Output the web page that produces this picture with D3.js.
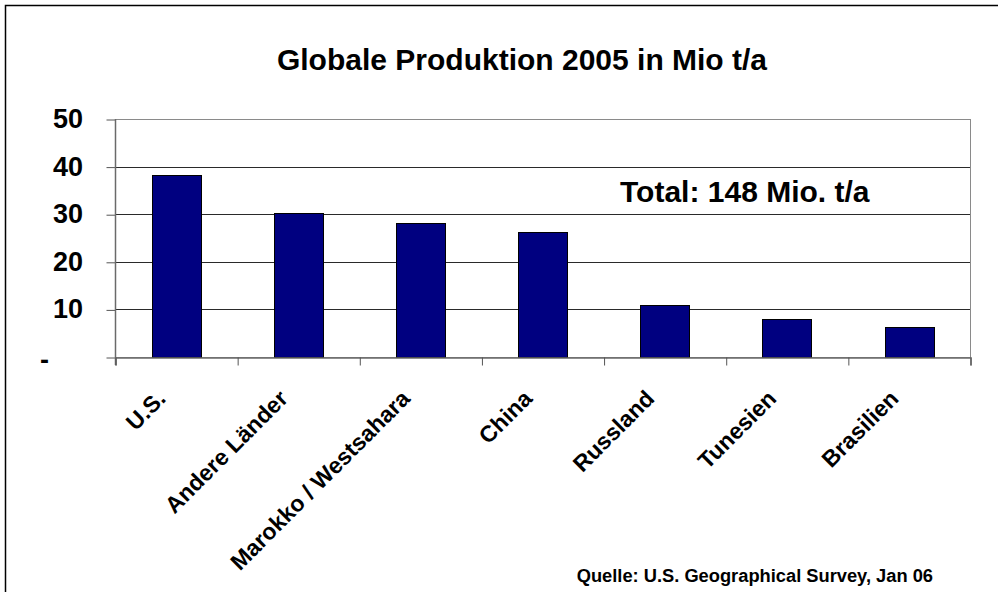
<!DOCTYPE html>
<html>
<head>
<meta charset="utf-8">
<script src="https://cdn.jsdelivr.net/npm/d3@7"></script>
<style>
  body { margin: 0; background: #fff; }
  text { font-family: Arial, "Liberation Sans", sans-serif; font-weight: bold; fill: #000; }
</style>
</head>
<body>
<div id="container"></div>
<script>
let w = 998;
let h = 592;

// data
let countries = ["U.S.", "Andere Länder", "Marokko / Westsahara", "China", "Russland", "Tunesien", "Brasilien"];
let production = [38.3, 30.3, 28.1, 26.2, 11.0, 8.0, 6.4];
let yTicks = [0, 10, 20, 30, 40, 50];
let yTickLabels = ["-", "10", "20", "30", "40", "50"];

let plotLeft = 115, plotRight = 970, plotTop = 119, plotBottom = 357;

let viz = d3.select("#container").append("svg")
    .attr("width", w)
    .attr("height", h);

// outer frame (only top and left are visible)
viz.append("rect")
    .attr("x", 5.5).attr("y", 5.5)
    .attr("width", 1100).attr("height", 700)
    .attr("fill", "none").attr("stroke", "#000").attr("stroke-width", 1.5);

let xScale = d3.scaleBand().domain(countries).range([plotLeft, plotRight])
    .paddingInner(0.6).paddingOuter(0.3);
let xEdges = d3.scaleLinear().domain([0, countries.length]).range([plotLeft, plotRight]);
let yScale = d3.scaleLinear().domain([0, 50]).range([plotBottom, plotTop]);

// plot area border (top + right visible)
viz.append("rect")
    .attr("x", plotLeft + 0.5).attr("y", plotTop + 0.5)
    .attr("width", plotRight - plotLeft).attr("height", plotBottom - plotTop)
    .attr("fill", "none").attr("stroke", "#8a8a8a").attr("stroke-width", 1);

// gridlines
viz.selectAll(".grid").data(yTicks.filter(d => d > 0 && d < 50)).enter().append("line")
    .attr("class", "grid")
    .attr("x1", plotLeft).attr("x2", plotRight)
    .attr("y1", d => Math.round(yScale(d)) + 0.5)
    .attr("y2", d => Math.round(yScale(d)) + 0.5)
    .attr("stroke", "#2a2a2a").attr("stroke-width", 1);

// bars
viz.selectAll(".bar").data(production).enter().append("rect")
    .attr("class", "bar")
    .attr("x", (d, i) => Math.round(xScale(countries[i])) + 0.5)
    .attr("y", d => Math.round(yScale(d)) + 0.5)
    .attr("width", Math.round(xScale.bandwidth()))
    .attr("height", d => Math.round(yScale(0)) - Math.round(yScale(d)))
    .attr("fill", "#000080")
    .attr("stroke", "#000").attr("stroke-width", 1);

// y axis
let yAxis = d3.axisLeft(yScale).tickValues(yTicks).tickSize(9).tickFormat("");
let yAxisGroup = viz.append("g").attr("transform", "translate(" + (plotLeft + 0.5) + ",0.5)").call(yAxis);
yAxisGroup.select(".domain").remove();
yAxisGroup.selectAll(".tick line").attr("stroke", "#555");
viz.append("line")
    .attr("x1", plotLeft + 0.5).attr("x2", plotLeft + 0.5)
    .attr("y1", plotTop).attr("y2", plotBottom + 8)
    .attr("stroke", "#6a6a6a").attr("stroke-width", 1.5);

viz.selectAll(".ylab").data(yTicks).enter().append("text")
    .attr("class", "ylab")
    .attr("x", (d, i) => i == 0 ? 40 : 83)
    .attr("y", (d, i) => yScale(d) + (i == 0 ? 12 : 9))
    .attr("text-anchor", (d, i) => i == 0 ? "start" : "end")
    .style("font-size", "27px")
    .text((d, i) => yTickLabels[i]);

// x axis with ticks between categories
let xAxis = d3.axisBottom(xEdges).tickValues(d3.range(0, countries.length + 1)).tickSize(8).tickFormat("");
let xAxisGroup = viz.append("g").attr("transform", "translate(0.5," + (plotBottom + 0.5) + ")").call(xAxis);
xAxisGroup.select(".domain").attr("stroke", "#6a6a6a").attr("stroke-width", 1.5);
xAxisGroup.selectAll(".tick line").attr("stroke", "#555");

viz.selectAll(".xlab").data(countries).enter().append("text")
    .attr("class", "xlab")
    .attr("text-anchor", "end")
    .attr("transform", d => "translate(" + (xScale(d) + xScale.bandwidth() / 2 - 9) + ",400) rotate(-45)")
    .style("font-size", "23px")
    .text(d => d);

// title and notes
viz.append("text")
    .attr("x", 522).attr("y", 70)
    .attr("text-anchor", "middle")
    .style("font-size", "30px")
    .text("Globale Produktion 2005 in Mio t/a");

viz.append("text")
    .attr("x", 620).attr("y", 202)
    .style("font-size", "30px")
    .text("Total: 148 Mio. t/a");

viz.append("text")
    .attr("x", 933).attr("y", 582)
    .attr("text-anchor", "end")
    .style("font-size", "18.3px")
    .text("Quelle: U.S. Geographical Survey, Jan 06");
</script>
</body>
</html>
